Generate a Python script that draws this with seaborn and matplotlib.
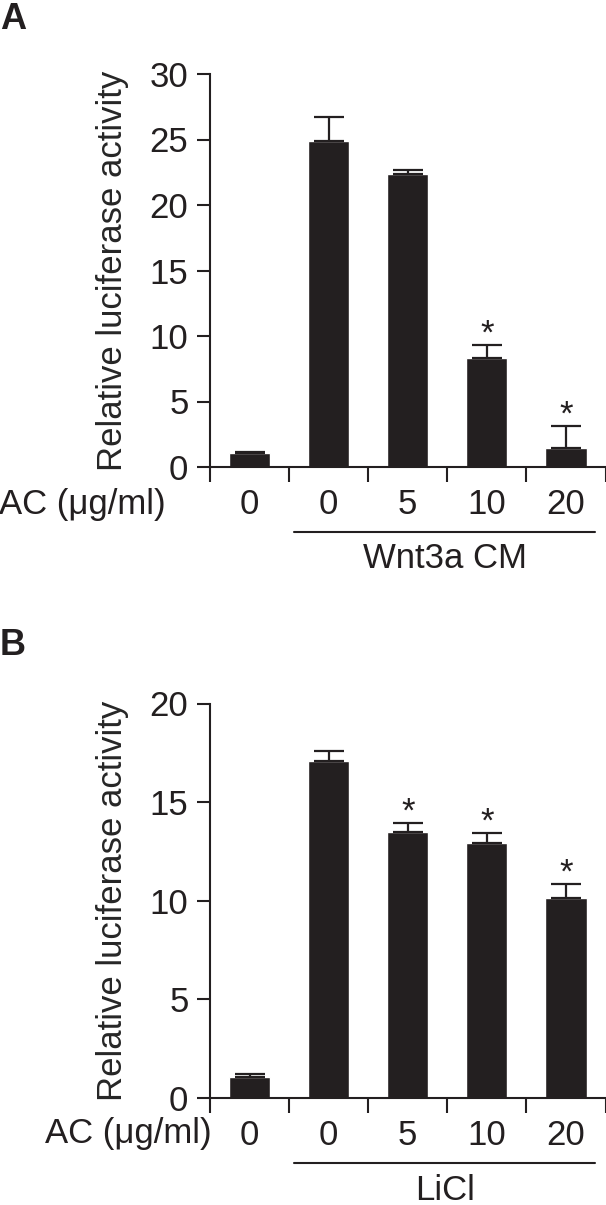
import numpy as np
import pandas as pd
import matplotlib
matplotlib.use("Agg")
import matplotlib.pyplot as plt
import matplotlib.transforms as mtransforms
import seaborn as sns

# data
ac_labels = ["0", "0", "5", "10", "20"]
a_means = [1.05, 24.9, 22.4, 8.3, 1.45]
a_err = [0.13, 1.8, 0.3, 1.05, 1.7]
a_sig = [False, False, False, True, True]
b_means = [1.08, 17.1, 13.5, 12.95, 10.15]
b_err = [0.15, 0.5, 0.45, 0.5, 0.7]
b_sig = [False, False, True, True, True]

sns.set_style("ticks")
plt.rcParams["font.family"] = ["Liberation Sans", "DejaVu Sans"]
ink = "#231f20"
plt.rcParams["text.color"] = ink
plt.rcParams["axes.edgecolor"] = ink
plt.rcParams["xtick.color"] = ink
plt.rcParams["ytick.color"] = ink

fig = plt.figure(figsize=(6.06, 12.05), dpi=100)
W, H = 606, 1205
FS = 25


def panel(rect, means, errs, sig, ymax, group, letter, letter_y, ac_x, ac_y):
    ax = fig.add_axes(rect)
    df = pd.DataFrame({"cond": [f"c{i}" for i in range(len(means))], "val": means})
    sns.barplot(data=df, x="cond", y="val", color=ink, saturation=1,
                width=0.52, errorbar=None, ax=ax)
    pos = np.arange(len(means))
    ax.errorbar(pos, means, yerr=[np.zeros(len(errs)), errs], fmt="none",
                ecolor=ink, elinewidth=1.6, capsize=10.8, capthick=1.6)
    for p, m, e, s in zip(pos, means, errs, sig):
        if s:
            ax.annotate("*", xy=(p, m + e), xytext=(0, 1), textcoords="offset points",
                        ha="center", va="baseline", fontsize=FS)
    ax.set_xlim(-0.5, len(means) - 0.5)
    ax.set_ylim(0, ymax)
    ax.set_yticks(np.arange(0, ymax + 1, 5))
    ax.set_xticks(np.arange(-0.5, len(means), 1.0))
    ax.set_xticklabels([])
    ax.set_xticks(pos, minor=True)
    ax.set_xticklabels(ac_labels, minor=True)
    ax.tick_params(axis="x", which="major", length=10.5, width=1.5, direction="out")
    ax.tick_params(axis="x", which="minor", length=0, pad=15, labelsize=FS)
    ax.tick_params(axis="y", length=9.5, width=1.5, pad=6, labelsize=FS)
    for sp in ["top", "right"]:
        ax.spines[sp].set_visible(False)
    for sp in ["left", "bottom"]:
        ax.spines[sp].set_linewidth(1.5)
    ax.set_xlabel("")
    ax.set_ylabel("Relative luciferase activity", fontsize=FS)
    ax.yaxis.set_label_coords(-0.205, 0.5)
    # group line and label below the ticks
    tr = mtransforms.blended_transform_factory(ax.transData, ax.transAxes)
    ax.plot([0.56, 4.37], [-0.165, -0.165], color=ink, lw=1.5, transform=tr, clip_on=False)
    ax.text(2.47, -0.234, group, transform=tr, ha="center", va="center", fontsize=FS)
    fig.text(ac_x / W, 1 - ac_y / H, "AC (μg/ml)", ha="right", va="center", fontsize=FS)
    fig.text(0.0, 1 - letter_y / H, letter, ha="left", va="top", fontsize=26, fontweight="bold")
    return ax


panel([210 / W, (H - 467) / H, 395.5 / W, 393 / H], a_means, a_err, a_sig, 30,
      "Wnt3a CM", "A", 2, 166, 504)
panel([210 / W, (H - 1098) / H, 395.5 / W, 394.5 / H], b_means, b_err, b_sig, 20,
      "LiCl", "B", 628, 212, 1134)

fig.savefig("out.png", dpi=100)
